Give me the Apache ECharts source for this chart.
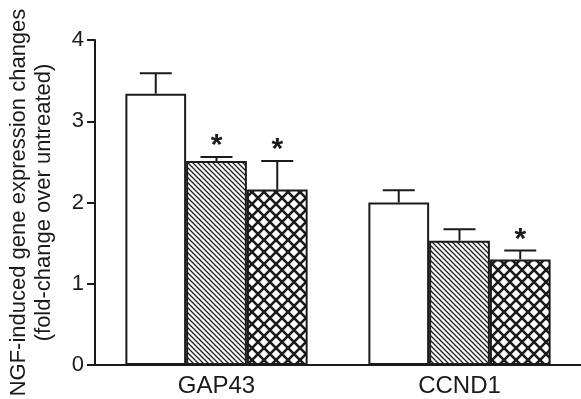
<!DOCTYPE html>
<html>
<head>
<meta charset="utf-8">
<script src="https://cdn.jsdelivr.net/npm/echarts@6/dist/echarts.min.js"></script>
<style>
  html, body { margin: 0; padding: 0; background: #fff; }
  #chart { width: 581px; height: 399px; }
</style>
</head>
<body>
<div id="chart"></div>
<script>
// data
const genes = ['GAP43', 'CCND1'];
const openMean = [3.34, 2.00];
const openErr = [0.25, 0.15];
const hatchMean = [2.51, 1.53];
const hatchErr = [0.05, 0.14];
const crossMean = [2.16, 1.30];
const crossErr = [0.35, 0.11];
const starFlags = [[false, true, true], [false, false, true]];
const yTicks = [0, 1, 2, 3, 4];

// fill patterns
const makeHatch = () => {
  const c = document.createElement('canvas');
  c.width = 5; c.height = 5;
  const g = c.getContext('2d');
  g.fillStyle = '#fff';
  g.fillRect(0, 0, 5, 5);
  g.strokeStyle = '#222';
  g.lineWidth = 1.3;
  g.beginPath();
  g.moveTo(-1, -1); g.lineTo(6, 6);
  g.moveTo(-1, 4); g.lineTo(1, 6);
  g.moveTo(4, -1); g.lineTo(6, 1);
  g.stroke();
  return c;
};
const makeCross = () => {
  const s = 12;
  const c = document.createElement('canvas');
  c.width = s; c.height = s;
  const g = c.getContext('2d');
  g.fillStyle = '#fff';
  g.fillRect(0, 0, s, s);
  g.strokeStyle = '#1a1a1a';
  g.lineWidth = 2.6;
  g.beginPath();
  g.moveTo(-2, -2); g.lineTo(s + 2, s + 2);
  g.moveTo(s + 2, -2); g.lineTo(-2, s + 2);
  g.stroke();
  return c;
};

const groups = [
  { mean: openMean, err: openErr, color: '#fff' },
  { mean: hatchMean, err: hatchErr, color: { image: makeHatch(), repeat: 'repeat' } },
  { mean: crossMean, err: crossErr, color: { image: makeCross(), repeat: 'repeat' } }
];

const errData = [];
genes.forEach((g, ci) => {
  groups.forEach((grp, gi) => {
    errData.push([ci, grp.mean[ci], grp.err[ci], gi, starFlags[ci][gi] ? 1 : 0]);
  });
});

const FONT = '"Liberation Sans", Arial, Helvetica, sans-serif';
const chart = echarts.init(document.getElementById('chart'));
const option = {
  animation: false,
  grid: { left: 95, right: 0, top: 40, bottom: 34, containLabel: false, outerBoundsMode: 'none' },
  xAxis: {
    type: 'category',
    data: genes,
    axisLine: { lineStyle: { color: '#1a1a1a', width: 2 } },
    axisTick: { alignWithLabel: true, length: 8, lineStyle: { color: '#1a1a1a', width: 2 } },
    axisLabel: { color: '#1a1a1a', fontFamily: FONT, fontSize: 24, margin: 9 }
  },
  yAxis: {
    type: 'value',
    min: yTicks[0],
    max: yTicks[yTicks.length - 1],
    interval: 1,
    splitLine: { show: false },
    axisLine: { show: true, lineStyle: { color: '#1a1a1a', width: 2 } },
    axisTick: { show: true, length: 8, lineStyle: { color: '#1a1a1a', width: 2 } },
    axisLabel: { color: '#1a1a1a', fontFamily: FONT, fontSize: 22, margin: 11 },
    name: 'NGF-induced gene expression changes\n(fold-change over untreated)',
    nameLocation: 'middle',
    nameRotate: 90,
    nameGap: 39,
    nameTextStyle: { color: '#1a1a1a', fontFamily: FONT, fontSize: 22, lineHeight: 25 }
  },
  series: groups.map((grp, gi) => ({
    type: 'bar',
    data: grp.mean,
    barWidth: '25%',
    barGap: '0%',
    itemStyle: { color: grp.color, borderColor: '#1a1a1a', borderWidth: 2 },
    z: 2
  })).concat([{
    type: 'custom',
    z: 5,
    data: errData,
    renderItem: (params, api) => {
      const ci = api.value(0);
      const mean = api.value(1);
      const err = api.value(2);
      const gi = api.value(3);
      const star = api.value(4);
      const band = api.size([1, 0])[0];
      const bw = band * 0.25;
      const x = api.coord([ci, 0])[0] + (gi - 1) * bw;
      const yTop = api.coord([ci, mean])[1];
      const yErr = api.coord([ci, mean + err])[1];
      const half = 16;
      const style = { stroke: '#1a1a1a', lineWidth: 2 };
      const children = [
        { type: 'line', shape: { x1: x, y1: yTop, x2: x, y2: yErr }, style },
        { type: 'line', shape: { x1: x - half, y1: yErr, x2: x + half, y2: yErr }, style }
      ];
      if (star) {
        children.push({
          type: 'text',
          style: {
            text: '*', x: x, y: yErr + 4,
            align: 'center', verticalAlign: 'bottom',
            font: 'bold 30px ' + FONT, fill: '#1a1a1a'
          }
        });
      }
      return { type: 'group', children };
    }
  }])
};
chart.setOption(option);
</script>
</body>
</html>
